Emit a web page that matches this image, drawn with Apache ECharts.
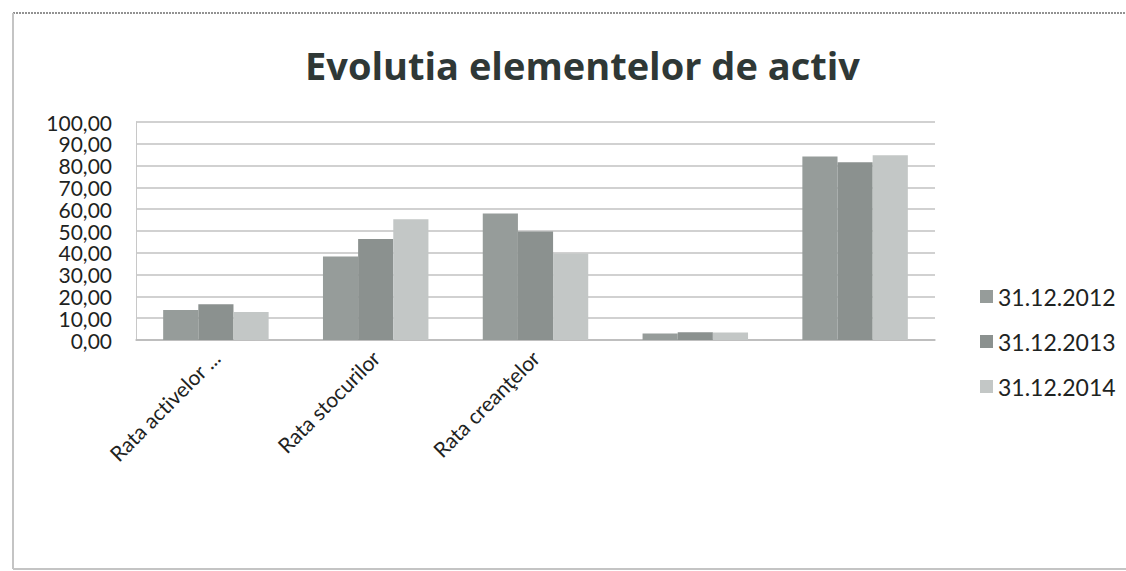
<!DOCTYPE html>
<html>
<head>
<meta charset="utf-8">
<script src="https://cdn.jsdelivr.net/npm/echarts@6/dist/echarts.min.js"></script>
<style>
    html, body { margin: 0; padding: 0; background: #fff; }
    #chart { width: 1126px; height: 571px; }
    /* Lato would otherwise join "ti" into one glyph */
    #chart text { font-variant-ligatures: none; }
</style>
</head>
<body>
<div id="chart"></div>
<script>
// categories (only the first three carry a visible label)
const categories = ['Rata activelor ...', 'Rata stocurilor', 'Rata creanţelor', '', ''];
const seriesNames = ['31.12.2012', '31.12.2013', '31.12.2014'];
const values2012 = [13.8, 38.3, 58.0, 3.0, 84.2];
const values2013 = [16.4, 46.3, 49.8, 3.6, 81.5];
const values2014 = [12.9, 55.4, 39.7, 3.4, 84.7];
const seriesColors = ['#969c9a', '#8b918f', '#c3c7c6'];

class ActivChart {
    constructor(domId) {
        this.dom = document.getElementById(domId);
    }
    build() {
        let chart = echarts.init(this.dom, null, { renderer: 'svg' });
        chart.setOption(this.setOption(), true);
        window.addEventListener('resize', function () { chart.resize(); });
    }
    setOption() {
        let option = { animation: false, backgroundColor: '#fff' };
        this.setTitle(option);
        this.setLegend(option);
        this.setGrid(option);
        this.setXAxis(option);
        this.setYAxis(option);
        this.setSeries(option);
        this.setFrame(option);
        return option;
    }
    setTitle(option) {
        option.title = {
            text: 'Evolutia elementelor de activ',
            left: 300,
            top: 41,
            textStyle: {
                fontFamily: 'Open Sans',
                fontWeight: 'bold',
                fontSize: 38,
                color: '#2f3836'
            }
        };
    }
    setLegend(option) {
        option.legend = {
            orient: 'vertical',
            left: 975,
            top: 280,
            itemWidth: 13,
            itemHeight: 13,
            itemGap: 22,
            icon: 'rect',
            textStyle: {
                fontFamily: 'Lato',
                fontSize: 23,
                color: '#1e2322'
            },
            data: seriesNames
        };
    }
    setGrid(option) {
        option.grid = {
            left: 136,
            right: 191,
            top: 122,
            bottom: 231,
            containLabel: false
        };
    }
    setXAxis(option) {
        option.xAxis = {
            type: 'category',
            data: categories,
            axisLine: { show: true, lineStyle: { color: '#b8b8b8', width: 1.5 } },
            axisTick: { show: false },
            axisLabel: {
                rotate: 45,
                interval: 0,
                margin: 14,
                fontFamily: 'Lato',
                fontSize: 21,
                color: '#1e2322'
            }
        };
    }
    setYAxis(option) {
        option.yAxis = {
            type: 'value',
            min: 0,
            max: 100,
            interval: 10,
            axisLine: { show: true, lineStyle: { color: '#c8c8c8' } },
            axisTick: { show: false },
            splitLine: { lineStyle: { color: '#c2c2c2', width: 1.5 } },
            axisLabel: {
                margin: 24,
                fontFamily: 'Lato',
                fontSize: 21,
                color: '#1e2322',
                formatter: function (v) { return v.toFixed(2).replace('.', ','); }
            }
        };
    }
    setSeries(option) {
        let data = [values2012, values2013, values2014];
        option.series = seriesNames.map(function (name, i) {
            return {
                name: name,
                type: 'bar',
                data: data[i],
                barGap: '0%',
                barCategoryGap: '34%',
                itemStyle: { color: seriesColors[i] }
            };
        });
    }
    setFrame(option) {
        // scanned page frame round the chart
        option.graphic = [
            {
                type: 'line',
                shape: { x1: 13, y1: 13, x2: 1126, y2: 13 },
                style: { stroke: '#6f6f6f', lineWidth: 1.5, lineDash: [2, 1] }
            },
            {
                type: 'line',
                shape: { x1: 13, y1: 13, x2: 13, y2: 569 },
                style: { stroke: '#c4c4c4', lineWidth: 2 }
            },
            {
                type: 'line',
                shape: { x1: 13, y1: 569, x2: 1126, y2: 569 },
                style: { stroke: '#c4c4c4', lineWidth: 2 }
            }
        ];
    }
}

new ActivChart('chart').build();
</script>
</body>
</html>
